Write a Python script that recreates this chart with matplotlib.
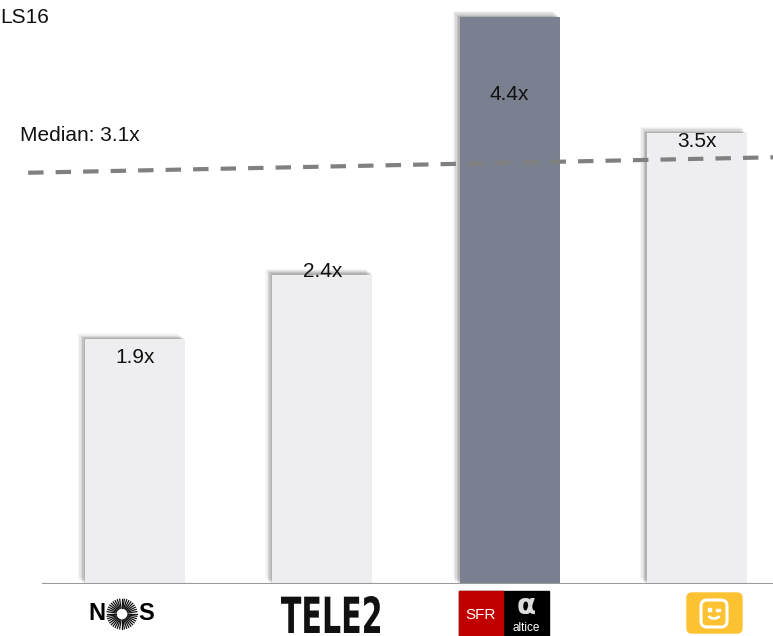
import matplotlib
matplotlib.use("Agg")
import numpy as np
import matplotlib.pyplot as plt
import matplotlib.patheffects as pe
from matplotlib.patches import Rectangle, FancyBboxPatch, PathPatch, Arc
from matplotlib.textpath import TextPath
from matplotlib.font_manager import FontProperties
from matplotlib.transforms import Affine2D

plt.rcParams['font.family'] = ['Liberation Sans', 'DejaVu Sans']

# ---- data ----
companies = ["NOS", "TELE2", "SFR / Altice", "Telenet"]
multiples = [1.9, 2.4, 4.4, 3.5]
value_labels = ["1.9x", "2.4x", "4.4x", "3.5x"]
median_value = 3.1
median_line_ends = [3.19, 3.31]   # the median line is drawn slightly tilted in the source
highlight = "SFR / Altice"

# ---- style ----
light = "#EEEEF0"
dark = "#7A808F"
colors = [dark if c == highlight else light for c in companies]
label_offsets_pt = [-13, 2, -56, -6]

W, H = 773, 636
fig = plt.figure(figsize=(W/100, H/100), dpi=100)
ax = fig.add_axes([42/W, 52/H, (W-42)/W, 584/H])
x = list(range(len(companies)))
ax.set_xlim(-0.497, 3.406)
ax.set_ylim(0, 4.53)
ax.axis("off")

shadow = [pe.SimplePatchShadow(offset=(-5, 4), shadow_rgbFace="#000000", alpha=0.035),
          pe.SimplePatchShadow(offset=(-4, 3.2), shadow_rgbFace="#000000", alpha=0.05),
          pe.SimplePatchShadow(offset=(-3, 2.4), shadow_rgbFace="#000000", alpha=0.07),
          pe.SimplePatchShadow(offset=(-2, 1.6), shadow_rgbFace="#000000", alpha=0.09),
          pe.SimplePatchShadow(offset=(-1, 0.8), shadow_rgbFace="#000000", alpha=0.1),
          pe.Normal()]
bars = ax.bar(x, multiples, width=0.535, color=colors, zorder=2)
for b in bars:
    b.set_path_effects(shadow)

for xi, v, lab, off in zip(x, multiples, value_labels, label_offsets_pt):
    ax.annotate(lab, (xi, v), xytext=(0, off), textcoords="offset points",
                ha="center", va="center", fontsize=15, color="#111111", zorder=4)

# baseline
ax.axhline(0, color="#9A9A9A", lw=1.5, zorder=3)

# median line
ln, = ax.plot([-0.571, 3.406], median_line_ends, color="#808080", lw=3,
              zorder=5, clip_on=False)
ln.set_dashes((3.7, 2.9))
ax.text(-0.614, 3.48, f"Median: {median_value}x", fontsize=15, ha="left",
        va="center", color="#111111", clip_on=False)

fig.text(0.0, 0.973, "LS16", fontsize=15, ha="left", va="center", color="#111111")

# ---- logos (drawn in pixel coordinates measured from the top-left) ----
px = Affine2D().scale(1, -1).translate(0, H)

# NOS
fig.text(97, 614, "N", transform=px, fontsize=17, fontweight="bold", ha="center", va="center")
fig.text(146, 614, "S", transform=px, fontsize=17, fontweight="bold", ha="center", va="center")
for a in np.linspace(0, 2*np.pi, 40, endpoint=False):
    fig.add_artist(plt.Line2D([122 + 6*np.cos(a), 122 + 15*np.cos(a)],
                              [614 + 6*np.sin(a), 614 + 15*np.sin(a)],
                              transform=px, color="#111111", lw=0.9))

# TELE2 (condensed heavy lettering)
tp = TextPath((0, 0), "TELE2", size=10, prop=FontProperties(family="DejaVu Sans", weight="bold"))
bb = tp.get_extents()
sx = (380 - 281) / bb.width
sy = (633 - 596) / bb.height
t_tele = Affine2D().translate(-bb.x0, -bb.y0).scale(sx, sy).translate(281, H - 633)
fig.add_artist(PathPatch(tp, transform=t_tele, color="#111111", lw=0))

# SFR altice
fig.add_artist(Rectangle((459, 636), 90, -45, transform=px, color="#000000"))
fig.add_artist(Rectangle((459, 636), 44, -45, transform=px, color="#C00000"))
fig.text(481, 615, "SFR", transform=px, fontsize=11, color="white", ha="center", va="center")
fig.text(526, 606, "α", transform=px, fontsize=20, color="#DDDDDD", ha="center", va="center",
         family="DejaVu Sans", fontweight="bold")
fig.text(526, 628, "altice", transform=px, fontsize=8.5, color="white", ha="center", va="center")

# Telenet
fig.add_artist(FancyBboxPatch((687, 593), 55, 40, transform=px,
                              boxstyle="round,pad=0,rounding_size=5", color="#FDC231"))
fig.add_artist(FancyBboxPatch((701, 600), 26, 27, transform=px,
                              boxstyle="round,pad=0,rounding_size=6", fill=False,
                              ec="white", lw=2.2))
fig.add_artist(Rectangle((708, 608), 3, 3, transform=px, color="white"))
fig.add_artist(Rectangle((716, 609), 4, 2, transform=px, color="white"))
fig.add_artist(Arc((714, 614), 12, 9, theta1=20, theta2=160, transform=px,
                   color="white", lw=2))

fig.savefig("out.png", dpi=100, facecolor="white")
